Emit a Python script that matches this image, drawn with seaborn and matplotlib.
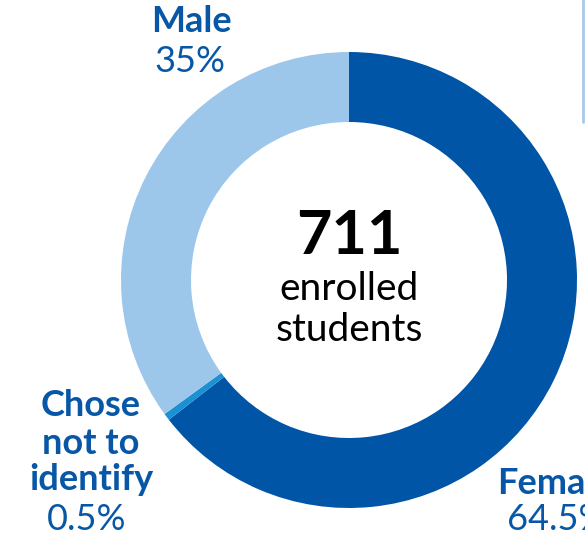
import matplotlib
matplotlib.use("Agg")
import matplotlib.pyplot as plt
import seaborn as sns

# data
labels = ["Female", "Chose\nnot to\nidentify", "Male"]
shares = [64.5, 0.5, 35.0]
total_students = 711

sns.set_style("white")
plt.rcParams['font.family'] = ['Lato', 'DejaVu Sans']

palette = sns.color_palette(["#0055A6", "#1B90D2", "#9DC7EA"])
text_blue = "#0757A6"

W, H = 585, 538
fig = plt.figure(figsize=(W / 100, H / 100), dpi=100)
ax = fig.add_axes([0, 0, 1, 1])

cx, cy, r = 349, 280, 228


def py(y):
    # pixel row (from top) -> data y
    return H - y


ax.pie(shares, colors=palette, startangle=90, counterclock=False,
       center=(cx, py(cy)), radius=r,
       wedgeprops=dict(width=70, linewidth=0))
ax.set_xlim(0, W)
ax.set_ylim(0, H)
ax.set_aspect("auto")
ax.axis("off")

# centre text
ax.text(cx, py(236), f"{total_students}", ha="center", va="center",
        fontsize=44, fontweight="bold", color="black")
ax.text(cx, py(289), "enrolled", ha="center", va="center", fontsize=28, color="black")
ax.text(cx, py(330), "students", ha="center", va="center", fontsize=28, color="black")

lab_fs = 26

# Male
ax.text(191, py(22), labels[2], ha="center", va="center", fontsize=lab_fs,
        fontweight="bold", color=text_blue)
ax.text(190, py(61), f"{shares[2]:.0f}%", ha="center", va="center", fontsize=lab_fs,
        color=text_blue)

# Chose not to identify
for line, yy in zip(labels[1].split("\n"), [405, 443, 480]):
    ax.text(91, py(yy), line, ha="center", va="center", fontsize=lab_fs,
            fontweight="bold", color=text_blue)
ax.text(87, py(519), f"{shares[1]}%", ha="center", va="center", fontsize=lab_fs,
        color=text_blue)

# Female (runs off the right edge as in the source)
ax.text(555, py(483), labels[0], ha="center", va="center", fontsize=lab_fs,
        fontweight="bold", color=text_blue)
ax.text(557, py(519), f"{shares[0]}%", ha="center", va="center", fontsize=lab_fs,
        color=text_blue)

# edge of neighbouring panel
ax.plot([583, 583], [py(0), py(122)], color="#A9C9E9", linewidth=2)

fig.savefig("out.png", dpi=100)
